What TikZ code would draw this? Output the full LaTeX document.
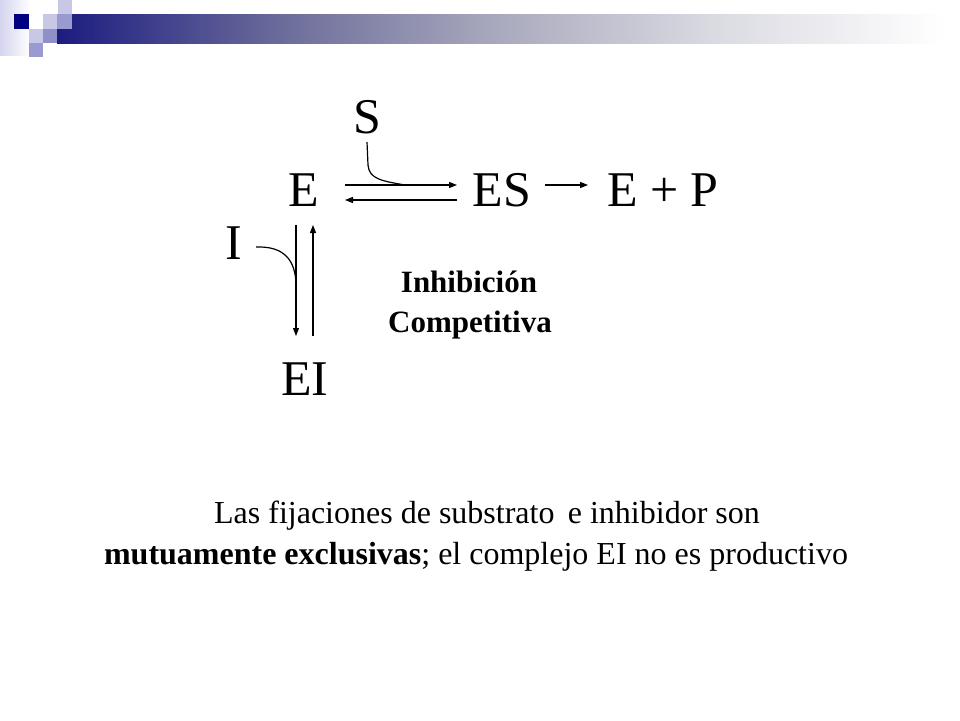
\documentclass[tikz,border=0pt]{standalone}
\usepackage{fontspec}
\setmainfont{Liberation Serif}
\usetikzlibrary{arrows.meta}
\definecolor{navyA}{HTML}{1C1C80}
\definecolor{navyB}{HTML}{000080}
\definecolor{barB}{HTML}{6E6E9C}
\definecolor{barC}{HTML}{AAAABE}
\definecolor{barD}{HTML}{DADAE2}
\definecolor{sqLight}{HTML}{C8C8E6}
\definecolor{sqMid}{HTML}{9A9AD0}
\definecolor{sqMidB}{HTML}{9090C8}
\definecolor{stripL}{HTML}{D4D4EE}
\pgfdeclarehorizontalshading{hbar}{100bp}{color(0bp)=(navyA); color(25bp)=(navyA); color(38bp)=(barB); color(50bp)=(barC); color(62bp)=(barD); color(75bp)=(white); color(100bp)=(white)}
\tikzset{
  big/.style={font=\fontsize{50}{60}\selectfont, inner sep=0pt, anchor=base},
  boldlbl/.style={font=\fontsize{31}{37}\selectfont\bfseries, inner sep=0pt, anchor=base},
  caption/.style={font=\fontsize{32}{38}\selectfont, inner sep=0pt, anchor=base},
  rxn/.style={line width=1.2pt, -{Triangle[length=8pt,width=6pt]}},
  plainline/.style={line width=1.2pt},
}
\begin{document}
\begin{tikzpicture}[x=1pt,y=-1pt]
\useasboundingbox (0,0) rectangle (960,720);
% header decoration
\shade[left color=stripL, right color=white] (0,0) rectangle (30,55);
\fill[shading=hbar] (57,14) rectangle (945,43);
\fill[sqLight] (58,0) rectangle (72,14);
\fill[navyB] (14,14) rectangle (29,29);
\fill[sqLight] (43,14) rectangle (57,29);
\fill[sqMid] (57,14) rectangle (72,29);
\fill[sqLight] (29,29) rectangle (43,43);
\fill[sqMidB] (43,29) rectangle (57,43);
\fill[sqMid] (29,43) rectangle (43,57);
% species
\node[big] (S) at (367,133) {S};
\node[big] (E) at (304,206) {E};
\node[big] (ES) at (502,206) {ES};
\node[big] (EP) at (663,206) {E + P};
\node[big] (I) at (234,259) {I};
\node[big] (EI) at (305,395) {EI};
\node[boldlbl] (lbl1) at (469,292) {Inhibición};
\node[boldlbl] (lbl2) at (470,332) {Competitiva};
\node[caption] (cap1) at (487,523) {Las fijaciones de substrato\ \,e inhibidor son};
\node[caption] (cap2) at (476,564) {\textbf{mutuamente exclusivas}; el complejo EI no es productivo};
% connector points
\coordinate (fwdA) at (345,185);
\coordinate (fwdB) at (457,185);
\coordinate (revA) at (457,200);
\coordinate (revB) at (345,200);
\coordinate (sA) at (367,142);
\coordinate (sB) at (368,165);
\coordinate (sC) at (405,185);
\coordinate (pA) at (545,185);
\coordinate (pB) at (588,185);
\coordinate (dnA) at (296,225);
\coordinate (dnB) at (296,336);
\coordinate (upA) at (313,336);
\coordinate (upB) at (313,225);
\coordinate (iA) at (256,247);
\coordinate (iB) at (296,286);
% arrows
\draw[rxn] (fwdA) -- (fwdB);
\draw[rxn] (revA) -- (revB);
\draw[plainline] (sA) -- (sB) .. controls (369,179) and (382,181) .. (sC);
\draw[rxn] (pA) -- (pB);
\draw[rxn] (dnA) -- (dnB);
\draw[rxn] (upA) -- (upB);
\draw[plainline] (iA) .. controls (283,246) and (296,259) .. (iB);
\end{tikzpicture}
\end{document}
